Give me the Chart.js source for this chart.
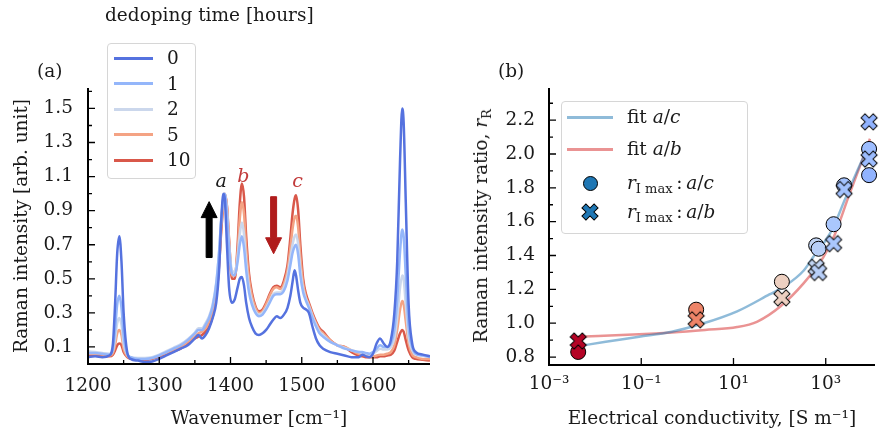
<!DOCTYPE html>
<html><head><meta charset="utf-8">
<title>Raman spectra and intensity ratio</title>
<script src="https://cdn.jsdelivr.net/npm/chart.js@4.4.1/dist/chart.umd.min.js"></script>
<style>
html,body{margin:0;padding:0;background:#fff;}
#wrap{position:relative;width:884px;height:439px;overflow:hidden;font-family:'DejaVu Serif',serif;color:#1a1a1a;font-size:18.5px;}
canvas{position:absolute;top:0;}
#ca{left:0;} #cb{left:440px;}
.t{position:absolute;white-space:nowrap;line-height:22px;height:22px;}
.lg{position:absolute;border:1px solid #d6d6d6;border-radius:4px;background:rgba(255,255,255,0.85);box-sizing:border-box;}
.sw{position:absolute;height:3px;}
sub{font-size:13px;vertical-align:-4px;line-height:0;}
</style></head><body>
<div id="wrap">
<canvas id="ca" width="440" height="439"></canvas>
<canvas id="cb" width="444" height="439"></canvas>
<div class="t" style="left:105px;top:4px">dedoping time [hours]</div>
<div class="t" style="left:37px;top:60px">(a)</div>
<div class="t" style="left:498px;top:60px">(b)</div>
<div id="legA" class="lg" style="left:107px;top:43px;width:89px;height:136px"></div>
<div id="legB" class="lg" style="left:561px;top:101px;width:187px;height:133px"></div>
<div class="t" style="left:481px;top:226px;transform:translate(-50%,-50%) rotate(-90deg)">Raman intensity ratio, <i>r</i><sub>R</sub></div>
</div>
<script>
// ---------------- data: panel (a) ----------------
const wavenumber = [1200,1210,1220,1230,1235,1238,1241,1244,1247,1250,
 1255,1260,1270,1280,1290,1300,1310,1320,1330,1340,
 1350,1355,1360,1365,1370,1375,1380,1384,1387,1390,
 1392,1395,1398,1402,1406,1410,1413,1416,1419,1422,
 1426,1430,1435,1440,1445,1450,1455,1460,1465,1470,
 1475,1480,1484,1487,1490,1492,1495,1498,1502,1506,
 1510,1515,1520,1525,1530,1540,1550,1560,1570,1580,
 1585,1590,1595,1600,1605,1610,1615,1620,1625,1630,
 1634,1638,1641,1643,1646,1650,1655,1660,1670,1680];
const dedopingTimes = ['0','1','2','5','10'];
const int0h = [0.040,0.045,0.040,0.050,0.12,0.35,0.65,0.75,0.60,0.30,
 0.07,0.03,0.02,0.012,0.015,0.03,0.05,0.07,0.09,0.11,
 0.15,0.17,0.15,0.17,0.21,0.27,0.36,0.55,0.84,1.00,
 0.97,0.70,0.45,0.36,0.38,0.45,0.50,0.51,0.46,0.36,
 0.27,0.22,0.18,0.17,0.18,0.20,0.23,0.26,0.28,0.27,
 0.29,0.33,0.40,0.48,0.55,0.52,0.43,0.36,0.33,0.32,
 0.30,0.22,0.15,0.11,0.09,0.07,0.06,0.05,0.04,0.04,
 0.055,0.045,0.04,0.06,0.12,0.15,0.12,0.10,0.14,0.30,
 0.60,1.20,1.50,1.42,0.95,0.35,0.12,0.07,0.055,0.045];
const int1h = [0.065,0.065,0.060,0.055,0.09,0.20,0.35,0.40,0.33,0.17,
 0.06,0.04,0.03,0.03,0.035,0.05,0.07,0.09,0.11,0.14,
 0.18,0.20,0.20,0.23,0.27,0.34,0.47,0.66,0.85,0.97,
 1.00,0.88,0.68,0.53,0.52,0.60,0.70,0.75,0.68,0.55,
 0.42,0.35,0.30,0.28,0.29,0.32,0.36,0.40,0.41,0.41,
 0.43,0.49,0.58,0.65,0.69,0.70,0.64,0.52,0.42,0.37,
 0.33,0.27,0.22,0.18,0.16,0.13,0.11,0.09,0.08,0.07,
 0.07,0.065,0.06,0.07,0.09,0.11,0.10,0.10,0.12,0.20,
 0.38,0.66,0.79,0.75,0.52,0.22,0.10,0.06,0.05,0.04];
const int2h = [0.075,0.070,0.065,0.060,0.08,0.15,0.24,0.27,0.23,0.12,
 0.055,0.04,0.035,0.035,0.04,0.055,0.075,0.095,0.115,0.145,
 0.185,0.21,0.21,0.24,0.28,0.35,0.48,0.66,0.85,0.97,
 1.00,0.90,0.70,0.55,0.54,0.63,0.76,0.83,0.76,0.60,
 0.45,0.37,0.31,0.29,0.30,0.33,0.37,0.41,0.42,0.42,
 0.45,0.52,0.62,0.70,0.75,0.76,0.70,0.56,0.44,0.38,
 0.34,0.28,0.23,0.19,0.17,0.13,0.11,0.095,0.08,0.07,
 0.065,0.06,0.055,0.06,0.075,0.09,0.085,0.085,0.10,0.15,
 0.27,0.45,0.52,0.50,0.35,0.16,0.08,0.055,0.05,0.045];
const int5h = [0.060,0.060,0.055,0.050,0.065,0.11,0.18,0.20,0.17,0.09,
 0.045,0.035,0.03,0.03,0.035,0.05,0.065,0.085,0.10,0.13,
 0.16,0.18,0.19,0.21,0.25,0.31,0.43,0.60,0.80,0.95,
 1.00,0.92,0.72,0.52,0.52,0.66,0.85,0.95,0.88,0.68,
 0.50,0.40,0.33,0.30,0.31,0.35,0.40,0.44,0.45,0.44,
 0.47,0.55,0.68,0.79,0.86,0.87,0.80,0.63,0.47,0.39,
 0.35,0.29,0.24,0.20,0.18,0.14,0.11,0.10,0.08,0.06,
 0.055,0.05,0.045,0.045,0.05,0.055,0.055,0.06,0.07,0.11,
 0.20,0.32,0.37,0.35,0.25,0.12,0.055,0.04,0.03,0.03];
const int10h = [0.055,0.055,0.050,0.045,0.055,0.08,0.11,0.12,0.11,0.07,
 0.04,0.03,0.025,0.025,0.03,0.045,0.06,0.075,0.09,0.12,
 0.15,0.16,0.17,0.19,0.22,0.28,0.40,0.58,0.78,0.94,
 1.00,0.93,0.73,0.50,0.50,0.70,0.94,1.06,0.98,0.75,
 0.53,0.42,0.34,0.31,0.32,0.36,0.41,0.45,0.46,0.45,
 0.49,0.58,0.74,0.88,0.97,0.99,0.90,0.70,0.50,0.41,
 0.36,0.30,0.25,0.21,0.19,0.14,0.11,0.10,0.07,0.05,
 0.045,0.04,0.04,0.04,0.04,0.045,0.045,0.05,0.055,0.08,
 0.13,0.18,0.20,0.19,0.14,0.08,0.04,0.03,0.025,0.02];
const xTicksA = [1200,1300,1400,1500,1600];
const xMinorA = [1250,1350,1450,1550,1650];
const yTicksA = [0.1,0.3,0.5,0.7,0.9,1.1,1.3,1.5];
const yMinorA = [0.2,0.4,0.6,0.8,1.0,1.2,1.4,1.6];

// ---------------- data: panel (b) ----------------
const conductivity = [0.0043,1.55,112,620,700,1480,2500,8700,8700];
const ratioAC = [0.83,1.08,1.245,1.46,1.44,1.585,1.815,2.03,1.875];
const ratioAB = [0.895,1.02,1.15,1.33,1.30,1.47,1.79,1.97,2.19];
const fitACsigma = [0.0045,0.017,0.09,0.46,2,12,60,130,330,630,1000,1480,2500,4000,6300,8000];
const fitACvalue = [0.865,0.89,0.92,0.95,0.995,1.07,1.17,1.22,1.31,1.42,1.49,1.57,1.72,1.85,1.97,2.03];
const fitABsigma = [0.0042,0.09,0.46,2.4,12,33,105,330,890,1550,3240,6300,9100];
const fitABvalue = [0.92,0.934,0.945,0.96,0.977,1.01,1.10,1.235,1.39,1.52,1.76,1.97,2.09];
const xTicksB = [1e-3,1e-1,1e1,1e3];
const yTicksB = [0.8,1.0,1.2,1.4,1.6,1.8,2.0,2.2];
const yMinorB = [0.9,1.1,1.3,1.5,1.7,1.9,2.1,2.3];

// ---------------- styles ----------------
const seriesColors = ['#5572df','#94b6fa','#cbd7ec','#f4a384','#d9584a'];
const sampleColors = ['#b40426','#ee8468','#edd0c1','#c2d5f4','#b8cff8','#aac7fd','#a3c2fe','#9dbdff','#91b3fe'];
const FONT = "'DejaVu Serif', serif";
Chart.defaults.font.family = FONT;
Chart.defaults.font.size = 18.5;
Chart.defaults.color = '#1a1a1a';

function inwardAxes(spec){
  return {id:'inwardAxes', afterDraw(chart){
    const {ctx, chartArea:a} = chart; const x = chart.scales.x, y = chart.scales.y;
    ctx.save(); ctx.strokeStyle = '#000'; ctx.lineWidth = 1.3; ctx.beginPath();
    const tx = (v,l)=>{const p=x.getPixelForValue(v); if(p<a.left-0.5||p>a.right+0.5) return; ctx.moveTo(p,a.bottom); ctx.lineTo(p,a.bottom-l);};
    const ty = (v,l)=>{const p=y.getPixelForValue(v); if(p<a.top-0.5||p>a.bottom+0.5) return; ctx.moveTo(a.left,p); ctx.lineTo(a.left+l,p);};
    spec.xMajor.forEach(v=>tx(v,7)); (spec.xMinor||[]).forEach(v=>tx(v,4));
    spec.yMajor.forEach(v=>ty(v,7)); (spec.yMinor||[]).forEach(v=>ty(v,4));
    ctx.stroke();
    ctx.lineWidth = 2; ctx.beginPath();
    ctx.moveTo(a.left,a.top); ctx.lineTo(a.left,a.bottom); ctx.lineTo(a.right,a.bottom); ctx.stroke();
    ctx.restore();
  }};
}

// annotation arrows (data coordinates)
const arrowsA = [
  {w:1370, from:0.625, to:0.953, color:'#000000'},
  {w:1460.5, from:0.982, to:0.647, color:'#b01c1c'}
];
const arrowPlugin = {id:'arrows', afterDatasetsDraw(chart){
  const {ctx} = chart; const x = chart.scales.x, y = chart.scales.y;
  arrowsA.forEach(ar=>{
    const px = x.getPixelForValue(ar.w), y0 = y.getPixelForValue(ar.from), y1 = y.getPixelForValue(ar.to);
    const dir = Math.sign(y1-y0), sw = 6, hw = 16, hl = 16;
    const yn = y1 - dir*hl;
    ctx.save(); ctx.fillStyle = ar.color; ctx.strokeStyle = ar.color; ctx.lineJoin='round'; ctx.lineWidth=1;
    ctx.beginPath();
    ctx.moveTo(px-sw/2,y0); ctx.lineTo(px-sw/2,yn); ctx.lineTo(px-hw/2,yn); ctx.lineTo(px,y1);
    ctx.lineTo(px+hw/2,yn); ctx.lineTo(px+sw/2,yn); ctx.lineTo(px+sw/2,y0); ctx.closePath();
    ctx.fill(); ctx.stroke(); ctx.restore();
  });
}};

// ---------------- chart (a) ----------------
const spectra = [int0h,int1h,int2h,int5h,int10h];
const chartA = new Chart(document.getElementById('ca'), {
  type:'line',
  data:{datasets: spectra.map((s,i)=>({
    label: dedopingTimes[i],
    data: wavenumber.map((w,j)=>({x:w,y:s[j]})),
    borderColor: seriesColors[i], borderWidth:2.5, pointRadius:0, fill:false,
    cubicInterpolationMode:'monotone', borderJoinStyle:'round'
  }))},
  options:{
    responsive:false, animation:false, devicePixelRatio:1,
    layout:{padding:{left:0,right:10,top:88,bottom:0}},
    plugins:{legend:{display:false}, tooltip:{enabled:false}},
    scales:{
      x:{type:'linear', min:1200, max:1680,
         afterBuildTicks:s=>{s.ticks = xTicksA.map(v=>({value:v}));},
         afterFit:s=>{s.height = 75;},
         grid:{display:false, drawTicks:false}, border:{display:false},
         ticks:{padding:11, callback:v=>String(v), maxRotation:0, autoSkip:false},
         title:{display:true, text:'Wavenumer [cm⁻¹]', padding:{top:0,bottom:9}}},
      y:{type:'linear', min:0, max:1.62,
         afterBuildTicks:s=>{s.ticks = yTicksA.map(v=>({value:v}));},
         afterFit:s=>{s.width = 88;},
         grid:{display:false, drawTicks:false}, border:{display:false},
         ticks:{padding:15, callback:v=>v.toFixed(1), autoSkip:false},
         title:{display:true, text:'Raman intensity [arb. unit]', padding:{top:11,bottom:0}}}
    }
  },
  plugins:[inwardAxes({xMajor:xTicksA,xMinor:xMinorA,yMajor:yTicksA,yMinor:yMinorA}), arrowPlugin]
});

// peak labels positioned through the scales
const peakLabels = [{t:'a', w:1387, v:1.08, c:'#1a1a1a'},{t:'b', w:1418, v:1.11, c:'#c23b3b'},{t:'c', w:1494, v:1.08, c:'#c23b3b'}];
const wrap = document.getElementById('wrap');
peakLabels.forEach(p=>{
  const d = document.createElement('div'); d.className='t';
  d.style.left = chartA.scales.x.getPixelForValue(p.w)+'px';
  d.style.top = chartA.scales.y.getPixelForValue(p.v)+'px';
  d.style.transform='translate(-50%,-50%)'; d.style.color=p.c; d.style.fontStyle='italic'; d.style.fontSize='19px';
  d.textContent = p.t; wrap.appendChild(d);
});

// legend (a)
dedopingTimes.forEach((t,i)=>{
  const yc = 58 + i*25.5;
  const s = document.createElement('div'); s.className='sw';
  s.style.left='114px'; s.style.width='39px'; s.style.top=(yc-1.5)+'px'; s.style.background=seriesColors[i];
  wrap.appendChild(s);
  const l = document.createElement('div'); l.className='t'; l.style.left='167px'; l.style.top=(yc-11)+'px'; l.textContent=t;
  wrap.appendChild(l);
});

// ---------------- chart (b) ----------------
function crossMarker(color){
  const c = document.createElement('canvas'); c.width = 24; c.height = 24;
  const g = c.getContext('2d'); g.translate(12,12); g.rotate(Math.PI/4);
  const r = 8.6, w = 2.8;
  const pts = [[w,r],[w,w],[r,w],[r,-w],[w,-w],[w,-r],[-w,-r],[-w,-w],[-r,-w],[-r,w],[-w,w],[-w,r]];
  g.beginPath(); pts.forEach((p,i)=> i? g.lineTo(p[0],p[1]) : g.moveTo(p[0],p[1])); g.closePath();
  g.fillStyle = color; g.fill(); g.lineWidth = 1; g.strokeStyle = '#000'; g.stroke();
  return c;
}
const crossImgs = sampleColors.map(crossMarker);
const sup = {'-':'⁻','0':'⁰','1':'¹','2':'²','3':'³','4':'⁴','5':'⁵','6':'⁶','7':'⁷','8':'⁸','9':'⁹'};
const chartB = new Chart(document.getElementById('cb'), {
  type:'line',
  data:{datasets:[
    {label:'r_Imax : a/b', data: conductivity.map((s,i)=>({x:s,y:ratioAB[i]})), showLine:false,
     pointStyle: ctx=>crossImgs[ctx.dataIndex], pointRadius:8, order:0, clip:false},
    {label:'r_Imax : a/c', data: conductivity.map((s,i)=>({x:s,y:ratioAC[i]})), showLine:false,
     pointStyle:'circle', pointRadius:7.5, pointBackgroundColor: sampleColors, pointBorderColor:'#000', pointBorderWidth:1, order:1, clip:false},
    {label:'fit a/c', data: fitACsigma.map((s,i)=>({x:s,y:fitACvalue[i]})), borderColor:'rgba(31,119,180,0.5)', borderWidth:2.5,
     pointRadius:0, cubicInterpolationMode:'monotone', order:2},
    {label:'fit a/b', data: fitABsigma.map((s,i)=>({x:s,y:fitABvalue[i]})), borderColor:'rgba(214,39,40,0.5)', borderWidth:2.5,
     pointRadius:0, cubicInterpolationMode:'monotone', order:3}
  ]},
  options:{
    responsive:false, animation:false, devicePixelRatio:1,
    layout:{padding:{left:0,right:4,top:88,bottom:0}},
    plugins:{legend:{display:false}, tooltip:{enabled:false}},
    scales:{
      x:{type:'logarithmic', min:1e-3, max:1.17e4,
         afterBuildTicks:s=>{s.ticks = xTicksB.map(v=>({value:v}));},
         afterFit:s=>{s.height = 74;},
         grid:{display:false, drawTicks:false}, border:{display:false},
         ticks:{padding:8, autoSkip:false, maxRotation:0,
                callback:v=>'10'+String(Math.round(Math.log10(v))).split('').map(ch=>sup[ch]).join('')},
         title:{display:true, text:'Electrical conductivity, [S m⁻¹]', padding:{top:0,bottom:9}}},
      y:{type:'linear', min:0.753, max:2.39,
         afterBuildTicks:s=>{s.ticks = yTicksB.map(v=>({value:v}));},
         afterFit:s=>{s.width = 109;},
         grid:{display:false, drawTicks:false}, border:{display:false},
         ticks:{padding:14, callback:v=>v.toFixed(1), autoSkip:false}}
    }
  },
  plugins:[inwardAxes({xMajor:xTicksB,yMajor:yTicksB,yMinor:yMinorB})]
});

// legend (b)
const legB = [
  {kind:'line', color:'rgba(31,119,180,0.5)', html:'fit <i>a</i>/<i>c</i>', y:117},
  {kind:'line', color:'rgba(214,39,40,0.5)', html:'fit <i>a</i>/<i>b</i>', y:149},
  {kind:'circle', color:'#1f77b4', html:'<i>r</i><sub>I max</sub>&#8201;:&#8201;<i>a</i>/<i>c</i>', y:183},
  {kind:'cross', color:'#1f77b4', html:'<i>r</i><sub>I max</sub>&#8201;:&#8201;<i>a</i>/<i>b</i>', y:212}
];
legB.forEach(e=>{
  if(e.kind==='line'){
    const s=document.createElement('div'); s.className='sw'; s.style.left='567px'; s.style.width='46px';
    s.style.top=(e.y-1.5)+'px'; s.style.background=e.color; wrap.appendChild(s);
  } else if(e.kind==='circle'){
    const s=document.createElement('div'); s.style.position='absolute'; s.style.left=(590-7.5)+'px'; s.style.top=(e.y-7.5)+'px';
    s.style.width='15px'; s.style.height='15px'; s.style.borderRadius='50%'; s.style.background=e.color;
    s.style.border='1px solid #000'; s.style.boxSizing='border-box'; wrap.appendChild(s);
  } else {
    const c = crossMarker(e.color); c.style.position='absolute'; c.style.left=(590-12)+'px'; c.style.top=(e.y-12)+'px';
    wrap.appendChild(c);
  }
  const l=document.createElement('div'); l.className='t'; l.style.left='627px'; l.style.top=(e.y-11)+'px'; l.innerHTML=e.html;
  wrap.appendChild(l);
});
</script>
</body></html>
